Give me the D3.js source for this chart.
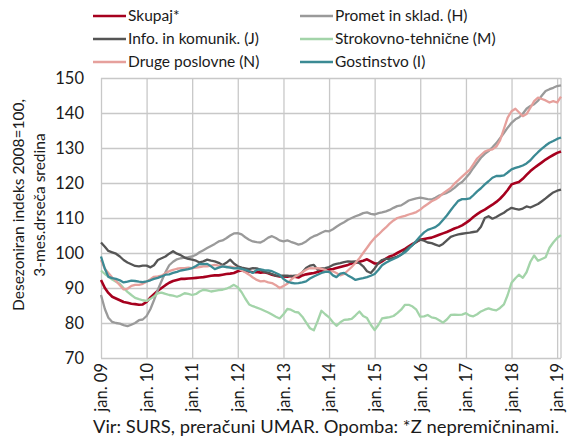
<!DOCTYPE html>
<html>
<head>
<meta charset="utf-8">
<script src="https://cdn.jsdelivr.net/npm/d3@7"></script>
<style>
  body { margin: 0; background: #fff; }
  svg text { font-family: Lato, "Noto Sans", sans-serif; fill: #1a1a1a; }
  .grid line { stroke: #c8c8c8; stroke-width: 1.3; }
  .grid .domain { display: none; }
</style>
</head>
<body>
<div id="chart-div"></div>
<script>
// monthly values, jan. 2009 .. feb. 2019
const skupaj = [
  92.3, 90.0, 88.6, 87.5, 87.0, 86.5, 86.0, 85.8, 85.5, 85.4, 85.2, 85.3,
  86.0, 87.3, 88.2, 89.2, 90.0, 90.8, 91.5, 92.0, 92.3, 92.6, 92.6, 92.7,
  92.8, 92.9, 93.0, 93.1, 93.3, 93.5, 93.6, 93.6, 93.8, 94.0, 94.1, 94.3,
  94.8, 95.0, 94.8, 94.7, 94.5, 94.6, 94.4, 94.5, 94.2, 93.8, 93.5, 93.3,
  93.3, 93.2, 93.4, 93.2, 93.0, 93.6, 93.9, 94.1, 94.3, 94.6, 94.9, 95.2,
  95.3, 95.4, 95.7, 96.0, 96.3, 96.6, 97.0, 97.2, 97.5, 97.8, 98.2, 97.6,
  97.0, 97.0, 97.6, 98.4, 99.0, 99.4, 100.0, 100.6, 101.2, 101.9, 102.6, 103.2,
  103.8, 104.0, 104.2, 104.4, 104.8, 105.2, 105.6, 106.0, 106.5, 107.0, 107.4, 107.9,
  108.6, 109.4, 110.3, 111.1, 111.8, 112.4, 113.1, 113.8, 114.6, 115.5, 116.7, 118.0,
  119.6, 120.0, 120.3, 121.2, 122.3, 123.4, 124.3, 125.1, 125.9, 126.7, 127.4, 128.0,
  128.6, 129.0
];
const promet = [
  88.0, 84.0, 81.5, 80.3, 80.0, 79.8, 79.4, 79.1, 79.5, 80.0, 80.8, 81.0,
  82.0, 84.0, 86.5, 89.5, 92.0, 94.5, 96.5, 97.5, 98.2, 98.5, 98.7, 98.8,
  99.0, 99.5, 100.2, 100.8, 101.4, 102.0, 102.6, 103.3, 103.6, 104.2, 105.0, 105.6,
  105.7, 105.3, 104.5, 103.8, 103.3, 103.1, 103.0, 103.6, 104.4, 104.8, 104.3, 103.6,
  103.3, 103.6, 103.2, 102.8, 102.4, 102.7, 103.3, 104.2, 104.8, 105.2, 105.8, 106.3,
  106.2, 106.8, 107.5, 108.2, 108.8, 109.5, 110.0, 110.5, 110.9, 111.4, 111.6, 111.2,
  111.0, 111.4, 111.6, 111.9, 112.3, 112.9, 113.4, 113.6, 114.3, 115.0, 115.3, 115.6,
  115.8, 115.6, 115.4, 115.3, 115.8, 116.4, 116.8, 117.2, 117.8, 118.6, 119.6, 120.3,
  121.5, 122.8, 124.3, 125.8, 127.2, 128.3, 129.1, 130.2, 131.4, 132.8, 134.3, 135.8,
  137.2, 138.2, 138.7, 139.8, 141.2, 142.0, 142.5, 143.5, 145.0, 146.3, 146.8, 147.2,
  147.7, 147.9
];
const info = [
  103.0, 101.8, 100.6, 100.2, 99.8, 99.0, 98.0, 97.3, 96.8, 96.3, 96.2, 96.4,
  96.4, 95.9, 96.5, 98.0, 98.5, 99.0, 99.8, 100.5, 99.8, 99.4, 98.7, 98.3,
  98.1, 97.8, 97.3, 97.6, 98.1, 97.8, 97.6, 97.2, 96.6, 97.2, 98.1, 97.0,
  96.2, 95.8, 95.6, 95.4, 95.7, 95.6, 95.2, 94.6, 94.3, 94.0, 93.5, 93.5,
  93.5, 93.5, 93.4, 93.5, 93.5, 94.5, 95.7, 96.4, 96.6, 95.2, 95.6, 95.7,
  96.0, 96.6, 96.9, 97.1, 97.4, 97.6, 97.5, 97.6, 97.1, 96.2, 94.8, 94.3,
  95.6, 97.2, 98.0, 98.3, 98.3, 98.6, 99.0, 99.5, 100.6, 101.6, 102.3, 103.2,
  103.8, 103.5, 103.0, 102.8, 102.4, 102.0, 102.6, 103.6, 104.6, 105.0, 105.3, 105.5,
  105.7, 105.8, 106.0, 106.2, 107.5, 110.0, 110.5, 109.8, 110.3, 110.9, 111.5, 112.3,
  112.9, 112.6, 112.4, 112.7, 113.3, 113.0, 113.5, 114.0, 114.8, 115.6, 116.5, 117.3,
  117.8, 118.1
];
const strokovno = [
  95.0, 94.0, 93.3, 92.4, 91.8, 91.2, 90.0, 88.9, 88.0, 87.2, 86.8, 86.5,
  86.3, 86.9, 87.6, 88.5, 88.7, 88.3, 88.0, 87.8, 87.5, 87.9, 88.5, 88.3,
  88.0, 88.3, 89.0, 89.5, 89.3, 89.0, 89.2, 89.4, 89.5, 89.8, 90.3, 90.9,
  90.2, 88.8, 87.0, 85.3, 84.8, 84.4, 84.0, 83.5, 83.0, 82.4, 81.8, 81.3,
  82.5, 84.0, 83.8, 83.2, 83.0, 81.8, 80.2, 78.5, 77.9, 80.5, 83.5, 82.5,
  81.6, 80.2, 79.2, 80.2, 80.9, 81.0, 81.2, 82.2, 83.3, 82.0, 81.4, 79.5,
  78.0, 79.5, 81.3, 81.5, 81.7, 82.0, 82.8, 83.8, 85.2, 85.2, 84.7, 83.8,
  81.8, 81.9, 82.3, 81.6, 81.4, 80.8, 80.1, 81.0, 82.3, 82.4, 82.3, 82.4,
  82.8, 82.1, 81.9, 82.5, 83.3, 83.8, 84.2, 83.8, 83.6, 84.3, 85.3, 88.0,
  91.5, 92.8, 93.8, 92.9, 94.5, 97.5, 99.3, 97.8, 98.3, 98.8, 101.5, 103.0,
  104.3, 105.1
];
const druge = [
  98.0, 95.5, 94.3, 93.0, 92.0, 90.8, 89.6, 89.8, 90.6, 90.9, 90.9, 91.2,
  91.8, 92.5, 93.2, 93.3, 93.5, 94.2, 94.8, 95.2, 95.5, 95.7, 95.7, 95.8,
  95.7, 95.8, 96.0, 96.2, 96.2, 96.4, 96.6, 96.4, 96.3, 96.0, 96.1, 95.9,
  95.7, 95.0, 94.5, 93.8, 93.0, 92.3, 91.9, 92.0, 91.6, 91.4, 90.8, 90.0,
  90.6, 91.2, 92.3, 93.2, 93.8, 94.5, 95.2, 95.7, 95.6, 95.7, 95.5, 95.2,
  94.5, 94.8, 94.3, 93.6, 94.0, 95.0, 96.0, 97.2, 98.5, 100.0, 101.5, 103.0,
  104.3, 105.3, 106.3, 107.3, 108.4, 109.3, 110.0, 110.3, 110.6, 111.0, 111.3, 111.7,
  112.4, 113.3, 114.0, 114.8, 115.3, 116.0, 117.0, 117.8, 118.6, 119.8, 120.8, 121.8,
  122.8, 123.8, 125.3, 127.0, 128.0, 129.0, 129.4, 129.6, 130.4, 132.2, 135.5, 138.7,
  140.5, 141.2, 140.2, 139.1, 139.7, 141.5, 143.4, 144.4, 144.0, 143.6, 143.0, 143.4,
  143.0, 144.7
];
const gostinstvo = [
  99.0, 95.5, 93.2, 92.8, 92.6, 92.2, 91.6, 91.8, 92.1, 92.0, 91.8, 91.7,
  91.9, 92.2, 92.6, 92.9, 93.3, 93.8, 93.9, 94.3, 94.6, 95.0, 95.2, 95.4,
  95.7, 96.3, 96.9, 96.8, 96.9, 96.2, 95.4, 95.8, 96.2, 96.0, 95.8, 95.6,
  95.7, 95.5, 95.2, 94.8, 94.3, 95.2, 95.3, 95.1, 95.0, 94.8, 94.3, 93.8,
  92.6, 91.8, 91.5, 91.3, 91.4, 91.6, 91.9, 92.7, 93.3, 93.8, 94.3, 94.6,
  94.7, 93.6, 93.1, 94.1, 94.3, 93.6, 93.0, 92.3, 92.6, 92.8, 93.1, 93.5,
  94.0, 95.2, 96.5, 97.2, 97.8, 98.3, 98.8, 99.5, 100.2, 101.2, 102.3, 103.5,
  104.8, 105.9, 106.6, 107.0, 107.4, 108.2, 109.4, 110.7, 112.2, 113.6, 114.9, 115.4,
  115.4, 115.6, 116.5, 117.6, 118.5, 119.6, 120.5, 121.5, 122.0, 122.0, 122.2, 123.0,
  123.9, 124.3, 124.6, 125.0, 125.6, 126.5, 127.7, 128.8, 129.8, 130.7, 131.5, 132.0,
  132.6, 133.0
];

const seriesNames = ['Skupaj*', 'Promet in sklad. (H)', 'Info. in komunik. (J)',
  'Strokovno-tehnične (M)', 'Druge poslovne (N)', 'Gostinstvo (I)'];
const seriesColors = ['#a6001e', '#9a9a9a', '#555555', '#a3d4a9', '#e6a09c', '#3b8a94'];
const seriesValues = [skupaj, promet, info, strokovno, druge, gostinstvo];

const xTickLabels = ['jan. 09', 'jan. 10', 'jan. 11', 'jan. 12', 'jan. 13', 'jan. 14',
  'jan. 15', 'jan. 16', 'jan. 17', 'jan. 18', 'jan. 19'];
const yTicks = [70, 80, 90, 100, 110, 120, 130, 140, 150];

const CHART_WIDTH = 568;
const CHART_HEIGHT = 441;
const MARGIN = { top: 78, right: 7, bottom: 83, left: 101 };

class LineChart {
  constructor() {
    this.months = d3.timeMonth.range(new Date(2009, 0, 1), new Date(2019, 2, 1));
    this.years = d3.timeYear.range(new Date(2009, 0, 1), new Date(2019, 1, 1));

    this.svg = d3.select('#chart-div')
      .append('svg')
      .attr('width', CHART_WIDTH)
      .attr('height', CHART_HEIGHT);

    this.xScale = d3.scaleTime()
      .domain([this.months[0], this.months[this.months.length - 1]])
      .range([MARGIN.left, CHART_WIDTH - MARGIN.right]);

    this.yScale = d3.scaleLinear()
      .domain([70, 150])
      .range([CHART_HEIGHT - MARGIN.bottom, MARGIN.top]);

    this.drawGrid();
    this.drawLines();
    this.drawLegend();
    this.drawTitles();
  }

  drawGrid() {
    const plotW = CHART_WIDTH - MARGIN.left - MARGIN.right;
    const plotH = CHART_HEIGHT - MARGIN.top - MARGIN.bottom;

    let yAxis = this.svg.append('g')
      .attr('class', 'grid')
      .attr('transform', `translate(${MARGIN.left},0)`)
      .call(d3.axisLeft(this.yScale).tickValues(yTicks).tickSize(-plotW).tickPadding(17));
    yAxis.selectAll('text').style('font-size', '16.5px');

    let xAxis = this.svg.append('g')
      .attr('class', 'grid')
      .attr('transform', `translate(0,${CHART_HEIGHT - MARGIN.bottom})`)
      .call(d3.axisBottom(this.xScale)
        .tickValues(this.years)
        .tickSize(-plotH)
        .tickFormat((d, i) => xTickLabels[i]));
    xAxis.selectAll('text')
      .style('font-size', '16.5px')
      .attr('text-anchor', 'end')
      .attr('transform', 'rotate(-90)')
      .attr('x', -5)
      .attr('y', 0)
      .attr('dy', '0.35em');

    // right frame
    this.svg.append('line')
      .attr('x1', this.xScale.range()[1]).attr('x2', this.xScale.range()[1])
      .attr('y1', MARGIN.top).attr('y2', CHART_HEIGHT - MARGIN.bottom)
      .attr('stroke', '#c8c8c8')
      .attr('stroke-width', 1.3);
  }

  drawLines() {
    let line = d3.line()
      .x((d, i) => this.xScale(this.months[i]))
      .y(d => this.yScale(d));

    this.svg.append('g')
      .selectAll('path')
      .data(seriesValues)
      .join('path')
      .attr('d', d => line(d))
      .attr('fill', 'none')
      .attr('stroke', (d, i) => seriesColors[i])
      .attr('stroke-width', (d, i) => i === 0 ? 2.6 : 2.3)
      .attr('stroke-linejoin', 'round');
  }

  drawLegend() {
    let items = this.svg.append('g')
      .selectAll('g')
      .data(seriesNames)
      .join('g')
      .attr('transform', (d, i) => `translate(${i % 2 === 0 ? 93 : 300},${16 + Math.floor(i / 2) * 23})`);

    items.append('line')
      .attr('x1', 0).attr('x2', 33)
      .attr('stroke', (d, i) => seriesColors[i])
      .attr('stroke-width', 2.6);

    items.append('text')
      .attr('x', 35)
      .attr('dy', '0.35em')
      .style('font-size', '15.5px')
      .text(d => d);
  }

  drawTitles() {
    this.svg.append('text')
      .attr('transform', 'translate(24,205) rotate(-90)')
      .attr('text-anchor', 'middle')
      .style('font-size', '15.5px')
      .selectAll('tspan')
      .data(['Desezoniran indeks 2008=100,', '3-mes.drseča sredina'])
      .join('tspan')
      .attr('x', 0)
      .attr('dy', (d, i) => i === 0 ? 0 : 21)
      .text(d => d);

    this.svg.append('text')
      .attr('x', 93)
      .attr('y', 433)
      .attr('textLength', 466)
      .attr('lengthAdjust', 'spacingAndGlyphs')
      .style('font-size', '17px')
      .text('Vir: SURS, preračuni UMAR. Opomba: *Z nepremičninami.');
  }
}

new LineChart();
</script>
</body>
</html>
